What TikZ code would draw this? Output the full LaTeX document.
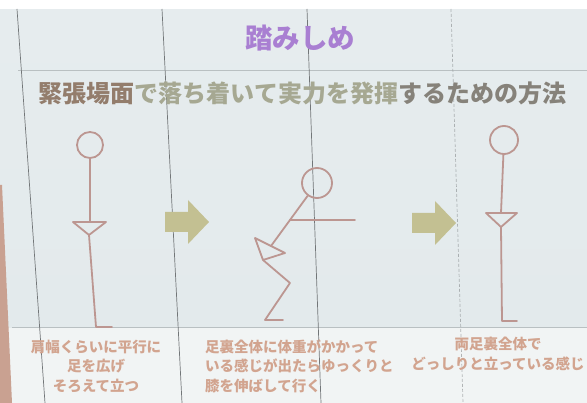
\documentclass[tikz,border=0pt]{standalone}
\usepackage{fontspec}
\newfontfamily\jp{Noto Sans CJK JP}
\usetikzlibrary{calc}
\definecolor{slidebg}{HTML}{E3EAEC}
\definecolor{slidebgtop}{HTML}{E6ECEE}
\definecolor{capbg}{HTML}{F1F4F4}
\definecolor{wood}{HTML}{C9A191}
\definecolor{frame}{HTML}{727678}
\definecolor{faint}{HTML}{B9C0C2}
\definecolor{titlepurple}{HTML}{A97FD2}
\definecolor{subA}{HTML}{937D6C}
\definecolor{subB}{HTML}{A6A892}
\definecolor{subC}{HTML}{86827A}
\definecolor{figline}{HTML}{BC9691}
\definecolor{olive}{HTML}{C3C092}
\definecolor{captext}{HTML}{D2A48F}
\tikzset{
  frameline/.style={draw=frame, line width=0.7pt},
  faintline/.style={draw=faint, line width=0.6pt},
  limb/.style={draw=figline, line width=1.8pt, line join=round, line cap=round},
  headc/.style={circle, draw=figline, line width=1.8pt, inner sep=0pt},
  caption/.style={text=captext, font=\jp\bfseries\fontsize{14.5}{19.5}\selectfont, inner sep=0pt},
  pics/blockarrow/.style={code={
    \fill[olive] (0,-10) -- (23,-10) -- (23,-22) -- (44,0) -- (23,22) -- (23,10) -- (0,10) -- cycle;
  }}
}
\begin{document}
\begin{tikzpicture}[x=1pt,y=-1pt]
\useasboundingbox (0,0) rectangle (587,403);
% slide surface
\fill[white] (0,0) rectangle (587,403);
\shade[top color=slidebgtop, bottom color=slidebg] (0,10) rectangle (587,328);
\fill[capbg] (0,328) rectangle (587,403);
\fill[wood] (0,185) -- (2,185) -- (12,403) -- (0,403) -- cycle;
% window frame seen through the screen
\draw[faintline] (18,70) -- (587,70);
\draw[faintline] (12,327) -- (587,327);
\draw[frameline] (17,9) -- (45,403);
\draw[frameline] (162,9) -- (182,403);
\draw[frameline] (307,9) -- (321,403);
\draw[frameline, draw opacity=0.5, densely dashed] (451,9) -- (463,403);
% headings
\node[text=titlepurple, font=\jp\bfseries\fontsize{27.5}{30}\selectfont, inner sep=0pt] (title) at (300,38) {踏みしめ};
\node[font=\jp\bfseries\fontsize{24}{26}\selectfont, inner sep=0pt] (subtitle) at (302.5,93)
  {\textcolor{subA}{緊張場面}\textcolor{subB}{で落ち着いて実力を発揮}\textcolor{subC}{するための方法}};
% figure 1: standing
\node[headc, minimum size=26pt] (head1) at (90,145) {};
\coordinate (neck1) at (90,222);
\coordinate (tl1) at (73,222);
\coordinate (tr1) at (106,222);
\coordinate (tb1) at (89,235);
\coordinate (heel1) at (96,327);
\coordinate (toe1) at (112,327);
\draw[limb] (head1) -- (neck1);
\draw[limb] (tl1) -- (tr1) -- (tb1) -- cycle;
\draw[limb] (tb1) -- (heel1) -- (toe1);
% arrow 1
\pic (arrow1) at (165,222) {blockarrow};
% figure 2: crouching
\node[headc, minimum size=30pt] (head2) at (317,183) {};
\coordinate (hip2) at (271,246);
\coordinate (shoulder2) at (290,220);
\coordinate (hand2) at (355,220);
\coordinate (ta2) at (255,238);
\coordinate (tb2) at (285,253);
\coordinate (tc2) at (263,260);
\coordinate (knee2) at (290,283);
\coordinate (heel2) at (265,320);
\coordinate (toe2) at (283,320);
\draw[limb] (head2) -- (hip2);
\draw[limb] (shoulder2) -- (hand2);
\draw[limb] (ta2) -- (tb2) -- (tc2) -- cycle;
\draw[limb] (tc2) -- (knee2) -- (heel2) -- (toe2);
% arrow 2
\pic (arrow2) at (412,223) {blockarrow};
% figure 3: standing firmly
\node[headc, minimum size=28pt] (head3) at (504,140) {};
\coordinate (neck3) at (501,213);
\coordinate (tl3) at (486,213);
\coordinate (tr3) at (517,213);
\coordinate (tb3) at (501,227);
\coordinate (heel3) at (502,321);
\coordinate (toe3) at (517,321);
\draw[limb] (head3) -- (neck3);
\draw[limb] (tl3) -- (tr3) -- (tb3) -- cycle;
\draw[limb] (tb3) -- (heel3) -- (toe3);
% captions
\node[caption, align=center] (cap1) at (96,366) {肩幅くらいに平行に\\足を広げ\\そろえて立つ};
\node[caption, align=left, anchor=west] (cap2) at (205,366) {足裏全体に体重がかかって\\いる感じが出たらゆっくりと\\膝を伸ばして行く};
\node[caption, align=center, anchor=north] (cap3) at (498,337) {両足裏全体で\\どっしりと立っている感じ};
\end{tikzpicture}
\end{document}
